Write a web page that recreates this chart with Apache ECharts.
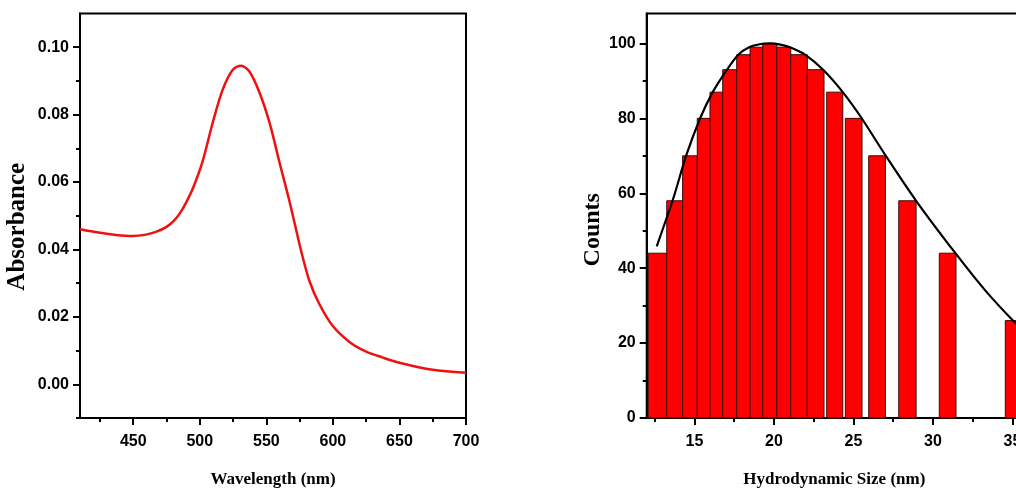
<!DOCTYPE html>
<html>
<head>
<meta charset="utf-8">
<script src="https://cdn.jsdelivr.net/npm/echarts@6/dist/echarts.min.js"></script>
<style>
html,body{margin:0;padding:0;background:#fff;overflow:hidden;}
#c{width:1040px;height:493px;}
</style>
</head>
<body>
<div id="c"></div>
<script>
// ---- Left panel: UV-Vis absorbance ----
const wavelength = [410, 424, 437, 449.5, 459.6, 467, 475, 481, 486, 490, 495, 502, 509.7, 517.2, 524.8, 531, 537.3, 544.9, 552.4, 559.9, 567.5, 576.3, 582.5, 590.1, 600.1, 612.7, 625, 637, 650, 675, 700];
const absorbance = [0.0460, 0.0450, 0.0443, 0.0440, 0.0444, 0.0452, 0.0467, 0.0487, 0.0513, 0.0541, 0.0583, 0.0660, 0.0776, 0.0874, 0.0933, 0.0945, 0.0928, 0.0865, 0.0776, 0.0658, 0.0541, 0.0393, 0.0305, 0.0236, 0.0172, 0.0125, 0.0097, 0.0080, 0.0064, 0.0043, 0.0034];
const wlTicks = [450, 500, 550, 600, 650, 700];
const wlMinorTicks = [425, 475, 525, 575, 625, 675];
const absTicks = [0, 0.02, 0.04, 0.06, 0.08, 0.10];
const absMinorTicks = [-0.01, 0.01, 0.03, 0.05, 0.07, 0.09];

// ---- Right panel: DLS histogram ----
const binStart = [12.10, 13.26, 14.26, 15.18, 15.98, 16.78, 17.66, 18.50, 19.30, 20.18, 21.06, 22.10, 23.32, 24.49, 25.96, 27.85, 30.40, 34.55];
const binEnd   = [13.26, 14.26, 15.18, 15.98, 16.78, 17.66, 18.50, 19.30, 20.18, 21.06, 22.10, 23.15, 24.33, 25.54, 27.01, 28.94, 31.45, 35.60];
const counts   = [44, 58, 70, 80, 87, 93, 97, 99, 100, 99, 97, 93, 87, 80, 70, 58, 44, 26];
const fitX = [12.63, 13.67, 14.47, 15.35, 16.15, 17.03, 17.76, 18.50, 19.10, 19.75, 20.40, 21.01, 21.96, 23.11, 24.33, 25.54, 27.05, 28.94, 31.45, 33.3, 35.06, 35.60];
const fitY = [45.8, 58.6, 69.9, 79.9, 87.0, 92.9, 97.0, 99.1, 99.8, 100, 99.7, 99.0, 97.0, 92.9, 87.0, 79.9, 69.9, 58.0, 43.8, 34.0, 25.9, 24.0];
const sizeTicks = [15, 20, 25, 30, 35];
const sizeMinorTicks = [12.5, 17.5, 22.5, 27.5, 32.5];
const countTicks = [0, 20, 40, 60, 80, 100];
const countMinorTicks = [10, 30, 50, 70, 90];

const tickFont = "'Liberation Sans','Arial',sans-serif";
const titleFont = "'Liberation Serif','DejaVu Serif',serif";
const tickLabel = {show: true, color: '#000', fontFamily: tickFont, fontWeight: 'bold', fontSize: 16};

function mainAxis(gridIndex, pos, min, max, ticks, labelExtra, extra) {
  return Object.assign({
    type: 'value', gridIndex, position: pos, min, max,
    axisLine: {show: true, onZero: false, lineStyle: {color: '#000', width: 2}},
    axisTick: {show: true, inside: false, length: 7, customValues: ticks, lineStyle: {color: '#000', width: 2}},
    axisLabel: Object.assign({customValues: ticks}, tickLabel, labelExtra),
    splitLine: {show: false}
  }, extra || {});
}
function minorAxis(gridIndex, pos, min, max, ticks) {
  return {
    type: 'value', gridIndex, position: pos, min, max,
    axisLine: {show: false, onZero: false},
    axisTick: {show: true, inside: false, length: 4, customValues: ticks, lineStyle: {color: '#000', width: 2}},
    axisLabel: {show: false},
    splitLine: {show: false}
  };
}

const chart = echarts.init(document.getElementById('c'));
chart.setOption({
  animation: false,
  backgroundColor: '#fff',
  grid: [
    {left: 80, top: 13.5, width: 386, height: 407, show: true, borderColor: '#000', borderWidth: 2},
    {left: 646.7, top: 13.5, width: 375.3, height: 407.2, show: true, borderColor: '#000', borderWidth: 2}
  ],
  xAxis: [
    mainAxis(0, 'bottom', 410, 700, wlTicks, {margin: 16}, {
      name: 'Wavelength (nm)', nameLocation: 'middle', nameGap: 53,
      nameTextStyle: {fontFamily: titleFont, fontWeight: 'bold', fontSize: 17, color: '#000'}
    }),
    minorAxis(0, 'bottom', 410, 700, wlMinorTicks),
    mainAxis(1, 'bottom', 12, 35.6, sizeTicks, {margin: 16}, {
      name: 'Hydrodynamic Size (nm)', nameLocation: 'middle', nameGap: 53,
      nameTextStyle: {fontFamily: titleFont, fontWeight: 'bold', fontSize: 17, color: '#000'}
    }),
    minorAxis(1, 'bottom', 12, 35.6, sizeMinorTicks)
  ],
  yAxis: [
    mainAxis(0, 'left', -0.01, 0.11, absTicks, {margin: 11, formatter: v => v.toFixed(2)}, {
      name: 'Absorbance', nameLocation: 'middle', nameGap: 50, nameRotate: 90,
      nameTextStyle: {fontFamily: titleFont, fontWeight: 'bold', fontSize: 25, color: '#000', padding: [0, 22, 0, 0]}
    }),
    minorAxis(0, 'left', -0.01, 0.11, absMinorTicks),
    mainAxis(1, 'left', 0, 108, countTicks, {margin: 11}, {
      name: 'Counts', nameLocation: 'middle', nameGap: 37, nameRotate: 90,
      nameTextStyle: {fontFamily: titleFont, fontWeight: 'bold', fontSize: 24, color: '#000', padding: [0, 28, 0, 0]}
    }),
    minorAxis(1, 'left', 0, 108, countMinorTicks)
  ],
  series: [
    {
      type: 'line', xAxisIndex: 0, yAxisIndex: 0,
      data: wavelength.map((w, i) => [w, absorbance[i]]),
      smooth: 0.3, symbol: 'none',
      lineStyle: {color: '#f01010', width: 2.5}
    },
    {
      type: 'custom', xAxisIndex: 2, yAxisIndex: 2,
      data: binStart.map((s, i) => [s, binEnd[i], counts[i]]),
      encode: {x: [0, 1], y: 2},
      renderItem: function (params, api) {
        const p0 = api.coord([api.value(0), api.value(2)]);
        const p1 = api.coord([api.value(1), 0]);
        return {
          type: 'rect',
          shape: {x: p0[0], y: p0[1], width: p1[0] - p0[0], height: p1[1] - p0[1]},
          style: {fill: '#ff0000', stroke: '#3a0a0a', lineWidth: 1}
        };
      }
    },
    {
      type: 'line', xAxisIndex: 2, yAxisIndex: 2,
      data: fitX.map((x, i) => [x, fitY[i]]),
      smooth: 0.2, symbol: 'none',
      lineStyle: {color: '#000', width: 2.2}
    }
  ]
});
</script>
</body>
</html>
